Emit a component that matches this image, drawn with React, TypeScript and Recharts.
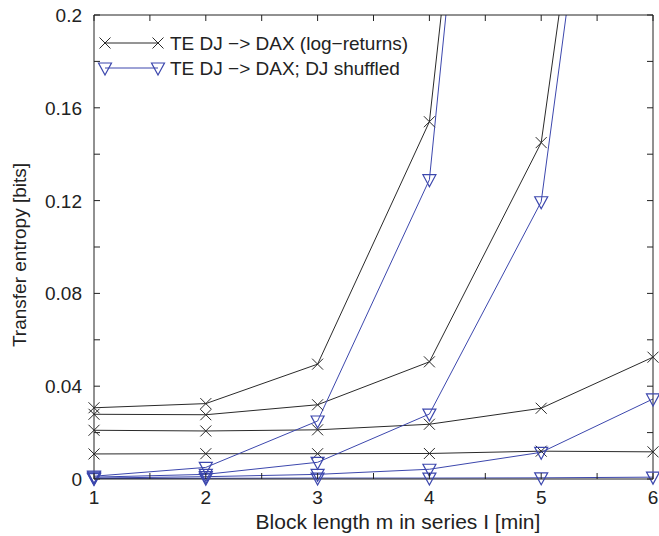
import React from 'react';
import { LineChart, Line, XAxis, YAxis, Legend } from 'recharts';

const blockLength = [1, 2, 3, 4, 5, 6];

// TE DJ -> DAX (log-returns), four curves
const teReturns1 = [0.0307, 0.0325, 0.0495, 0.154, 0.59, 1.2];
const teReturns2 = [0.0279, 0.0277, 0.032, 0.0505, 0.145, 0.49];
const teReturns3 = [0.021, 0.0207, 0.0212, 0.0236, 0.0305, 0.0525];
const teReturns4 = [0.0108, 0.0109, 0.0109, 0.011, 0.012, 0.0117];

// TE DJ -> DAX; DJ shuffled, four curves
const teShuffled1 = [0.0012, 0.005, 0.025, 0.129, 0.61, 1.2];
const teShuffled2 = [0.0008, 0.002, 0.0072, 0.028, 0.1195, 0.48];
const teShuffled3 = [0.0004, 0.001, 0.002, 0.0042, 0.0115, 0.0345];
const teShuffled4 = [0.0002, 0.0003, 0.0004, 0.0004, 0.0005, 0.0008];

const xTicks = [1, 1.5, 2, 2.5, 3, 3.5, 4, 4.5, 5, 5.5, 6];
const xLabels = [1, 2, 3, 4, 5, 6];
const yTicks = [0, 0.02, 0.04, 0.06, 0.08, 0.1, 0.12, 0.14, 0.16, 0.18, 0.2];
const yLabels = [0, 0.04, 0.08, 0.12, 0.16, 0.2];
const Y_MAX = 0.2;

const returnsSeries = [teReturns1, teReturns2, teReturns3, teReturns4];
const shuffledSeries = [teShuffled1, teShuffled2, teShuffled3, teShuffled4];

const data = blockLength.map((m, i) => {
  const row: Record<string, number | null> = { m };
  returnsSeries.forEach((s, k) => {
    row[`r${k}`] = s[i];
    row[`r${k}m`] = s[i] <= Y_MAX ? s[i] : null;
  });
  shuffledSeries.forEach((s, k) => {
    row[`s${k}`] = s[i];
    row[`s${k}m`] = s[i] <= Y_MAX ? s[i] : null;
  });
  return row;
});

const BLACK = '#2a2a2a';
const BLUE = '#3c47ad';
const TXT = '#222';
const FONT = '"Liberation Sans", Arial, Helvetica, sans-serif';

const Cross = (props: any) => {
  const { cx, cy, index } = props;
  if (cx == null || cy == null) return <g key={`c${index}`} />;
  const h = 5.5;
  return (
    <path
      key={`c${index}`}
      d={`M${cx - h},${cy - h}L${cx + h},${cy + h}M${cx - h},${cy + h}L${cx + h},${cy - h}`}
      stroke={BLACK}
      strokeWidth={1}
      fill="none"
    />
  );
};

const Triangle = (props: any) => {
  const { cx, cy, index } = props;
  if (cx == null || cy == null) return <g key={`t${index}`} />;
  const w = 6.5;
  return (
    <path
      key={`t${index}`}
      d={`M${cx - w},${cy - 5}L${cx + w},${cy - 5}L${cx},${cy + 7}Z`}
      stroke={BLUE}
      strokeWidth={1.2}
      fill="none"
    />
  );
};

const BottomTick = ({ x, y, payload }: any) => (
  <g>
    <line x1={x} x2={x} y1={y} y2={y - 6} stroke={TXT} />
    {xLabels.includes(payload.value) && (
      <text x={x} y={y + 25} textAnchor="middle" fontSize={19} fill={TXT}>
        {payload.value}
      </text>
    )}
  </g>
);

const TopTick = ({ x, y }: any) => (
  <line x1={x} x2={x} y1={y} y2={y + 6} stroke={TXT} />
);

const LeftTick = ({ x, y, payload }: any) => (
  <g>
    <line x1={x} x2={x + 6} y1={y} y2={y} stroke={TXT} />
    {yLabels.some((v) => Math.abs(v - payload.value) < 1e-9) && (
      <text x={x - 12} y={y} dy={7} textAnchor="end" fontSize={19} fill={TXT}>
        {String(payload.value)}
      </text>
    )}
  </g>
);

const RightTick = ({ x, y }: any) => (
  <line x1={x} x2={x - 6} y1={y} y2={y} stroke={TXT} />
);

const LegendContent = () => (
  <svg width={340} height={60} style={{ display: 'block' }}>
    <line x1={10} x2={63} y1={18} y2={18} stroke={BLACK} />
    {Cross({ cx: 10, cy: 18, index: 'l1' })}
    {Cross({ cx: 63, cy: 18, index: 'l2' })}
    <text x={75} y={18} dy={7} fontSize={19} fill={TXT} fontFamily={FONT}>
      TE DJ −&gt; DAX (log−returns)
    </text>
    <line x1={10} x2={63} y1={43} y2={43} stroke={BLUE} />
    {Triangle({ cx: 10, cy: 43, index: 'l3' })}
    {Triangle({ cx: 63, cy: 43, index: 'l4' })}
    <text x={75} y={43} dy={7} fontSize={19} fill={TXT} fontFamily={FONT}>
      TE DJ −&gt; DAX; DJ shuffled
    </text>
  </svg>
);

export default function App() {
  return (
    <div style={{ position: 'absolute', left: 0, top: 0, fontFamily: FONT }}>
      <LineChart
        width={659}
        height={536}
        data={data}
        margin={{ top: 0, right: 0, bottom: 0, left: 0 }}
        style={{ fontFamily: FONT }}
      >
        <XAxis
          xAxisId="x"
          dataKey="m"
          type="number"
          domain={[1, 6]}
          ticks={xTicks}
          interval={0}
          tickLine={false}
          tickSize={0}
          tickMargin={0}
          height={57}
          axisLine={{ stroke: TXT }}
          tick={BottomTick}
          label={() => (
            <text x={398} y={529} textAnchor="middle" fontSize={21} fill={TXT}>
              Block length m in series I [min]
            </text>
          )}
        />
        <XAxis
          xAxisId="top"
          orientation="top"
          dataKey="m"
          type="number"
          domain={[1, 6]}
          allowDataOverflow
          ticks={xTicks}
          interval={0}
          tickLine={false}
          tickSize={0}
          tickMargin={0}
          height={15}
          axisLine={{ stroke: TXT }}
          tick={TopTick}
        />
        <YAxis
          yAxisId="y"
          type="number"
          domain={[0, Y_MAX]}
          ticks={yTicks}
          interval={0}
          tickLine={false}
          tickSize={0}
          tickMargin={0}
          width={94}
          axisLine={{ stroke: TXT }}
          tick={LeftTick}
          label={() => (
            <text
              transform="translate(26,255) rotate(-90)"
              textAnchor="middle"
              fontSize={19}
              fill={TXT}
            >
              Transfer entropy [bits]
            </text>
          )}
        />
        <YAxis
          yAxisId="right"
          orientation="right"
          type="number"
          domain={[0, Y_MAX]}
          allowDataOverflow
          ticks={yTicks}
          interval={0}
          tickLine={false}
          tickSize={0}
          tickMargin={0}
          width={6}
          axisLine={{ stroke: TXT }}
          tick={RightTick}
        />
        <YAxis yAxisId="yc" type="number" domain={[0, Y_MAX]} allowDataOverflow hide />

        {returnsSeries.map((_, k) => (
          <Line
            key={`r${k}`}
            xAxisId="x"
            yAxisId="yc"
            dataKey={`r${k}`}
            stroke={BLACK}
            strokeWidth={1}
            dot={false}
            activeDot={false}
            legendType="none"
            isAnimationActive={false}
          />
        ))}
        {shuffledSeries.map((_, k) => (
          <Line
            key={`s${k}`}
            xAxisId="x"
            yAxisId="yc"
            dataKey={`s${k}`}
            stroke={BLUE}
            strokeWidth={1}
            dot={false}
            activeDot={false}
            legendType="none"
            isAnimationActive={false}
          />
        ))}
        {returnsSeries.map((_, k) => (
          <Line
            key={`r${k}m`}
            xAxisId="x"
            yAxisId="y"
            dataKey={`r${k}m`}
            stroke="none"
            dot={Cross}
            activeDot={false}
            legendType="none"
            isAnimationActive={false}
          />
        ))}
        {shuffledSeries.map((_, k) => (
          <Line
            key={`s${k}m`}
            xAxisId="x"
            yAxisId="y"
            dataKey={`s${k}m`}
            stroke="none"
            dot={Triangle}
            activeDot={false}
            legendType="none"
            isAnimationActive={false}
          />
        ))}
        <Legend
          layout="vertical"
          align="center"
          verticalAlign="middle"
          wrapperStyle={{ left: 95, top: 25, width: 340 }}
          content={LegendContent}
        />
      </LineChart>
    </div>
  );
}
